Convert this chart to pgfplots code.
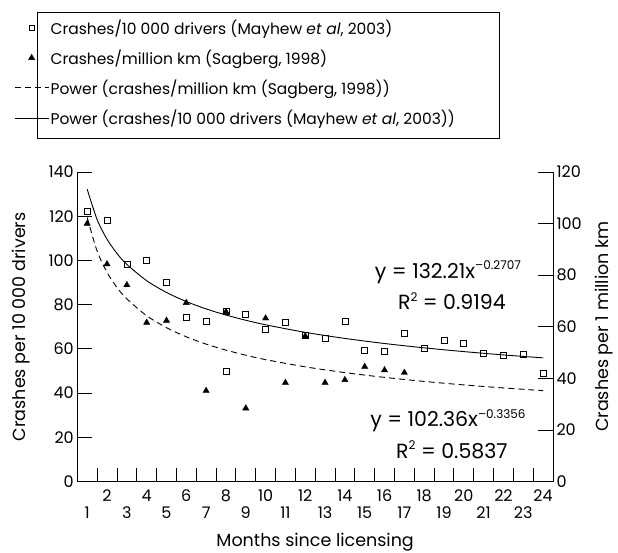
\documentclass[border=0pt]{standalone}
\usepackage{fontspec}
\setmainfont{Poppins}
\usepackage{pgfplots}
\pgfplotsset{compat=1.18}

\newcommand\tickf{\fontsize{16}{19}\selectfont}
\newcommand\legf{\fontsize{15.5}{18}\selectfont}
\newcommand\labf{\fontsize{17.5}{20}\selectfont}
\newcommand\eqf{\fontsize{20.5}{24}\selectfont}
\newcommand\sups[1]{\raisebox{0.42em}{\fontsize{12}{14}\selectfont #1}}

\pgfplotsset{
  common/.style={
    width=475.7pt, height=309.5pt, scale only axis,
    xmin=0.5, xmax=24.5, ymin=0,
    axis line style={line width=0.8pt},
    major tick length=15pt,
    minor tick length=14pt,
    every tick/.style={line width=0.8pt, black},
    /pgf/number format/assume math mode=true,
    tick label style={font=\tickf},
    label style={font=\labf},
  },
  every axis legend/.append style={
    legend image code/.code={
      \draw[mark repeat=2,mark phase=2,##1]
        plot coordinates {(0pt,0pt) (17pt,0pt) (34pt,0pt)};}
  },
}

\begin{document}
\begin{tikzpicture}
\path[use as bounding box] (-77.3pt,-70.5pt) rectangle (540.7pt,481.5pt);

% left axis: Mayhew et al
\begin{axis}[common,
  ymax=140, ytick={0,20,...,140},
  axis x line*=bottom, axis y line*=left,
  xtick={1,...,24},
  minor xtick={1.5,2.5,...,23.5},
  major x tick style={draw=none},
  xticklabel style={yshift={-5pt-17pt*(1-mod(\ticknum,2))}},
  xlabel={Months since licensing},
  xlabel style={at={(axis description cs:0.5,0)}, anchor=base, yshift=-65pt},
  ylabel={Crashes per 10~000 drivers},
  ylabel style={at={(axis description cs:-0.108,0.5)}, anchor=base},
]
\addplot[only marks, mark=square, mark size=3pt, black,
  mark options={line width=0.7pt, fill=white}] coordinates {
  (1,122.0) (2,118.0) (3,98.4) (4,100.0) (5,90.1) (6,74.4) (7,72.6)
  (8,76.8) (8,50.0) (9,75.8) (10,68.8) (11,72.0) (12,66.0) (13,64.8)
  (14,72.5) (15,59.5) (16,58.7) (17,67.0) (18,60.2) (19,63.7) (20,62.5)
  (21,58.0) (22,56.9) (23,57.7) (24,48.9)
};
% power trend y = 132.21 x^-0.2707
\addplot[black, line width=0.9pt, smooth] coordinates {
  (1,132.21) (1.5,118.47) (2,109.59) (2.5,103.17) (3,98.20) (4,90.84)
  (5,85.52) (6,81.40) (7,78.07) (8,75.30) (9,72.94) (10,70.89)
  (12,67.47) (14,64.72) (16,62.42) (18,60.46) (20,58.76) (22,57.26) (24,55.93)
};
\node[anchor=base, font=\eqf] at (axis cs:19.2,91.9) {y = 132.21x\sups{–0.2707}};
\node[anchor=base, font=\eqf] at (axis cs:19.4,77.6) {R\sups{2} = 0.9194};
\node[anchor=base, font=\eqf] at (axis cs:19.2,24.8) {y = 102.36x\sups{–0.3356}};
\node[anchor=base, font=\eqf] at (axis cs:19.4,10.5) {R\sups{2} = 0.5837};
\end{axis}

% right axis: Sagberg
\begin{axis}[common,
  ymax=120, ytick={0,20,...,120},
  axis x line=none, axis y line*=right,
  ylabel={Crashes per 1 million km},
  ylabel style={at={(axis description cs:1.117,0.5)}, anchor=base},
  legend style={at={(axis description cs:-0.1373,1.517)}, anchor=north west,
    draw=none, font=\legf, row sep=11pt,
    inner xsep=2pt, inner ysep=6pt, nodes={inner sep=1.5pt}},
  legend cell align=left,
]
\addlegendimage{only marks, mark=square, mark size=2.5pt, black, mark options={line width=0.6pt}}
\addlegendentry{Crashes/10~000 drivers (Mayhew \textit{et al}, 2003)}
\addplot[only marks, mark=triangle*, mark size=3.6pt, black] coordinates {
  (1,100.0) (2,84.3) (3,76.2) (4,61.6) (5,62.4) (6,69.3) (7,35.2) (8,65.8)
  (9,28.4) (10,63.3) (11,38.3) (12,56.4) (13,38.3) (14,39.4) (15,44.5)
  (16,43.2) (17,42.2)
};
\addlegendentry{Crashes/million km (Sagberg, 1998)}
% power trend y = 102.36 x^-0.3356
\addplot[black, line width=0.9pt, smooth, dash pattern=on 6pt off 4pt] coordinates {
  (1,102.36) (1.5,89.34) (2,81.12) (2.5,75.26) (3,70.80) (4,64.28)
  (5,59.64) (6,56.10) (7,53.27) (8,50.94) (9,48.96) (10,47.26)
  (12,44.46) (14,42.22) (16,40.37) (18,38.80) (20,37.45) (22,36.28) (24,35.23)
};
\addlegendentry{Power (crashes/million km (Sagberg, 1998))}
\addlegendimage{black, line width=0.9pt}
\addlegendentry{Power (crashes/10~000 drivers (Mayhew \textit{et al}, 2003))}
\end{axis}
% legend frame
\draw[line width=0.6pt] (-40.3pt,469.5pt) rectangle (421.7pt,343.5pt);
\end{tikzpicture}
\end{document}
